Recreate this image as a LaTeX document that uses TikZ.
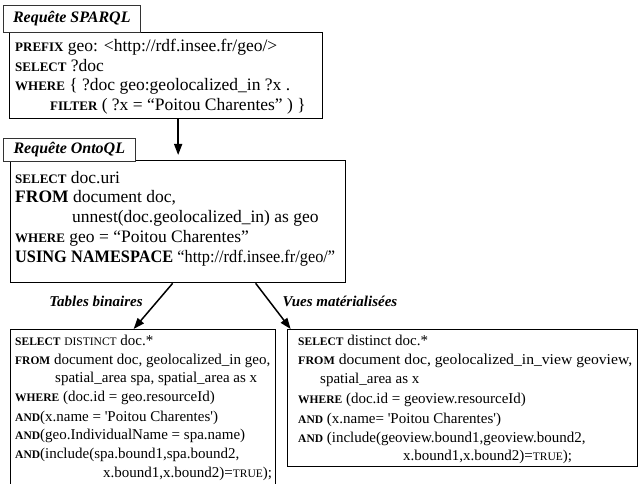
\documentclass[tikz,border=0pt]{standalone}
\usepackage{fontspec}
\setmainfont{Liberation Serif}
\usetikzlibrary{arrows.meta}
\newcommand\kwd[1]{{\fontsize{11.5}{12}\selectfont\bfseries #1}}
\newcommand\kwn[1]{{\fontsize{11.5}{12}\selectfont #1}}
\newcommand\kwt[1]{{\fontsize{13}{13}\selectfont\bfseries #1}}
\newcommand\sq{\textquotesingle}
\newcommand\fitw[2]{\resizebox{#1pt}{\height}{#2}}
\tikzset{
  ln/.style={anchor=base west, inner sep=0pt, font=\fontsize{15}{15}\selectfont},
  lnt/.style={anchor=base west, inner sep=0pt, font=\fontsize{17.5}{17.5}\selectfont},
  mainbox/.style={draw, line width=1.3pt, anchor=north west, inner sep=0pt, fill=white},
  labelbox/.style={draw=black!80, line width=0.6pt, anchor=north west, inner sep=0pt, fill=white,
    font=\fontsize{16}{16}\selectfont\bfseries\itshape},
  elabel/.style={inner sep=0pt, font=\fontsize{15}{15}\selectfont\bfseries\itshape},
  arr/.style={line width=1.5pt, -{Triangle[length=11pt,width=8pt]}}
}
\begin{document}
\begin{tikzpicture}[x=1pt,y=-1pt]
\useasboundingbox (0,0) rectangle (638,484);
% SPARQL
\node[mainbox, minimum width=313pt, minimum height=86pt] (sparql) at (9,32) {};
\node[labelbox, minimum width=137pt, minimum height=27pt] (lsparql) at (3,5) {Requête SPARQL};
\node[lnt] (s1) at (15,52) {\kwt{PREFIX} geo: <http://rdf.insee.fr/geo/>};
\node[lnt] (s2) at (15,72) {\kwt{SELECT} ?doc};
\node[lnt] (s3) at (15,91) {\kwt{WHERE} \{ ?doc geo:geolocalized\_in ?x .};
\node[lnt] (s4) at (50,111) {\kwt{FILTER} ( ?x = “Poitou Charentes” ) \}};
% OntoQL
\node[mainbox, minimum width=335pt, minimum height=122pt] (ontoql) at (10,160) {};
\node[labelbox, minimum width=132pt, minimum height=23pt] (lontoql) at (3,138) {Requête OntoQL};
\node[lnt] (o1) at (15,184) {\kwt{SELECT} doc.uri};
\node[lnt] (o2) at (15,203) {{\bfseries FROM} document doc,};
\node[lnt] (o3) at (72,223) {unnest(doc.geolocalized\_in) as geo};
\node[lnt] (o4) at (15,243) {\kwt{WHERE} geo = “Poitou Charentes”};
\node[lnt] (o5) at (15,263) {\fitw{320}{{\bfseries USING NAMESPACE} “http://rdf.insee.fr/geo/”}};
% Tables binaires
\node[mainbox, minimum width=265pt, minimum height=158pt] (tables) at (10,329) {};
\node[ln] (b1) at (15,345) {\kwd{SELECT} \kwn{DISTINCT} doc.*};
\node[ln] (b2) at (15,364) {\kwd{FROM} document doc, geolocalized\_in geo,};
\node[ln] (b3) at (55,382) {spatial\_area spa, spatial\_area as x};
\node[ln] (b4) at (15,401) {\kwd{WHERE} (doc.id = geo.resourceId)};
\node[ln] (b5) at (15,421) {\kwd{AND}(x.name = \sq Poitou Charentes\sq)};
\node[ln] (b6) at (15,439) {\kwd{AND}(geo.IndividualName = spa.name)};
\node[ln] (b7) at (15,458) {\kwd{AND}(include(spa.bound1,spa.bound2,};
\node[ln] (b8) at (103,477) {x.bound1,x.bound2)=\kwn{TRUE});};
% Vues
\node[mainbox, minimum width=350pt, minimum height=137pt] (vues) at (287,329) {};
\node[ln] (v1) at (298,345) {\kwd{SELECT} distinct doc.*};
\node[ln] (v2) at (298,364) {\fitw{334}{\kwd{FROM} document doc, geolocalized\_in\_view geoview,}};
\node[ln] (v3) at (320,383) {spatial\_area as x};
\node[ln] (v4) at (298,403) {\kwd{WHERE} (doc.id = geoview.resourceId)};
\node[ln] (v5) at (298,423) {\kwd{AND} (x.name= \sq Poitou Charentes\sq)};
\node[ln] (v6) at (298,442) {\kwd{AND} (include(geoview.bound1,geoview.bound2,};
\node[ln] (v7) at (403,460) {x.bound1,x.bound2)=\kwn{TRUE});};
% arrows
\draw[arr, shorten >=5pt] (ontoql.north |- sparql.south) -- (ontoql.north);
\draw[arr] ([xshift=-5.5pt]ontoql.south) -- ([xshift=-9.5pt]tables.north);
\draw[arr] ([xshift=77.5pt]ontoql.south) -- ([xshift=-172pt]vues.north);
\node[elabel] (lt) at (96,301) {Tables binaires};
\node[elabel] (lv) at (340,301) {Vues matérialisées};
\end{tikzpicture}
\end{document}
